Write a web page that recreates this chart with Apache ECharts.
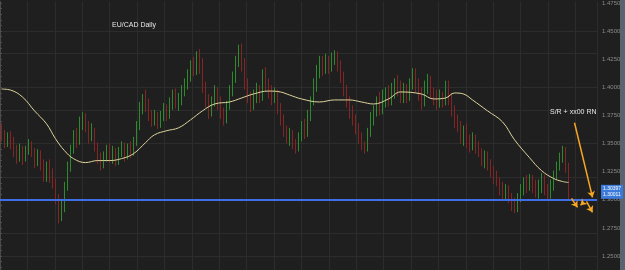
<!DOCTYPE html>
<html><head><meta charset="utf-8">
<script src="https://cdn.jsdelivr.net/npm/echarts@6/dist/echarts.min.js"></script>
<style>html,body{margin:0;padding:0;background:#1f1f1f;}#c{width:625px;height:270px;}</style>
</head><body><div id="c"></div>
<script>
const categories = Array.from({length: 199}, (_, i) => String(i + 1));
const opens = [1.362,1.356,1.350,1.357,1.352,1.346,1.340,1.345,1.338,1.344,
1.350,1.343,1.336,1.342,1.333,1.320,1.330,1.324,1.316,1.302,
1.288,1.293,1.312,1.330,1.345,1.358,1.352,1.368,1.375,1.366,
1.358,1.362,1.348,1.338,1.332,1.340,1.345,1.338,1.343,1.336,
1.342,1.348,1.340,1.346,1.342,1.352,1.366,1.382,1.390,1.384,
1.376,1.370,1.375,1.368,1.374,1.380,1.376,1.385,1.392,1.386,
1.390,1.397,1.404,1.412,1.420,1.415,1.425,1.418,1.400,1.390,
1.380,1.388,1.395,1.386,1.378,1.372,1.384,1.398,1.408,1.422,
1.432,1.420,1.404,1.392,1.384,1.392,1.398,1.392,1.410,1.402,
1.396,1.390,1.394,1.382,1.372,1.362,1.356,1.360,1.350,1.346,
1.356,1.366,1.360,1.374,1.388,1.402,1.414,1.422,1.416,1.424,
1.418,1.426,1.430,1.420,1.410,1.398,1.388,1.378,1.372,1.364,
1.356,1.348,1.346,1.360,1.372,1.380,1.386,1.380,1.388,1.394,
1.388,1.396,1.404,1.398,1.392,1.398,1.392,1.402,1.412,1.402,
1.394,1.386,1.400,1.406,1.396,1.390,1.386,1.392,1.388,1.398,
1.390,1.380,1.370,1.364,1.356,1.362,1.354,1.350,1.356,1.348,
1.342,1.336,1.340,1.332,1.326,1.320,1.316,1.310,1.306,1.310,
1.302,1.296,1.292,1.302,1.310,1.316,1.312,1.318,1.312,1.306,
1.312,1.318,1.310,1.304,1.312,1.322,1.330,1.338,1.344,1.330];
const closes = [1.356,1.350,1.357,1.352,1.346,1.340,1.345,1.338,1.344,1.350,
1.343,1.336,1.342,1.333,1.320,1.330,1.324,1.316,1.302,1.288,
1.293,1.312,1.330,1.345,1.358,1.352,1.368,1.375,1.366,1.358,
1.362,1.348,1.338,1.332,1.340,1.345,1.338,1.343,1.336,1.342,
1.348,1.340,1.346,1.342,1.352,1.366,1.382,1.390,1.384,1.376,
1.370,1.375,1.368,1.374,1.380,1.376,1.385,1.392,1.386,1.390,
1.397,1.404,1.412,1.420,1.415,1.425,1.418,1.400,1.390,1.380,
1.388,1.395,1.386,1.378,1.372,1.384,1.398,1.408,1.422,1.432,
1.420,1.404,1.392,1.384,1.392,1.398,1.392,1.410,1.402,1.396,
1.390,1.394,1.382,1.372,1.362,1.356,1.360,1.350,1.346,1.356,
1.366,1.360,1.374,1.388,1.402,1.414,1.422,1.416,1.424,1.418,
1.426,1.430,1.420,1.410,1.398,1.388,1.378,1.372,1.364,1.356,
1.348,1.346,1.360,1.372,1.380,1.386,1.380,1.388,1.394,1.388,
1.396,1.404,1.398,1.392,1.398,1.392,1.402,1.412,1.402,1.394,
1.386,1.400,1.406,1.396,1.390,1.386,1.392,1.388,1.398,1.390,
1.380,1.370,1.364,1.356,1.362,1.354,1.350,1.356,1.348,1.342,
1.336,1.340,1.332,1.326,1.320,1.316,1.310,1.306,1.310,1.302,
1.296,1.292,1.302,1.310,1.316,1.312,1.318,1.312,1.306,1.312,
1.318,1.310,1.304,1.312,1.322,1.330,1.338,1.344,1.330,1.304];
const lows = [1.352,1.346,1.347,1.345,1.338,1.332,1.334,1.331,1.334,1.340,
1.338,1.328,1.330,1.326,1.316,1.316,1.315,1.310,1.296,1.279,
1.281,1.289,1.308,1.325,1.341,1.346,1.349,1.362,1.360,1.350,
1.352,1.343,1.332,1.326,1.328,1.334,1.333,1.332,1.330,1.331,
1.338,1.334,1.336,1.337,1.339,1.348,1.362,1.376,1.378,1.370,
1.365,1.366,1.363,1.364,1.370,1.370,1.372,1.380,1.381,1.379,
1.384,1.392,1.398,1.405,1.410,1.411,1.412,1.395,1.382,1.372,
1.374,1.383,1.380,1.372,1.366,1.368,1.380,1.392,1.404,1.418,
1.414,1.398,1.386,1.378,1.380,1.386,1.386,1.388,1.396,1.390,
1.384,1.386,1.376,1.366,1.356,1.350,1.348,1.345,1.341,1.343,
1.352,1.354,1.356,1.370,1.384,1.396,1.408,1.410,1.412,1.412,
1.414,1.420,1.414,1.404,1.392,1.382,1.372,1.366,1.358,1.350,
1.344,1.341,1.343,1.356,1.366,1.374,1.375,1.376,1.382,1.383,
1.384,1.390,1.392,1.386,1.386,1.386,1.388,1.398,1.396,1.388,
1.380,1.383,1.394,1.390,1.384,1.380,1.382,1.382,1.384,1.384,
1.374,1.364,1.360,1.350,1.348,1.346,1.342,1.344,1.341,1.338,
1.330,1.328,1.326,1.320,1.314,1.312,1.304,1.300,1.300,1.297,
1.290,1.288,1.289,1.298,1.304,1.306,1.308,1.306,1.302,1.301,
1.306,1.304,1.300,1.301,1.308,1.318,1.326,1.333,1.324,1.300];
const highs = [1.368,1.362,1.360,1.361,1.356,1.349,1.350,1.348,1.348,1.354,
1.352,1.346,1.345,1.344,1.336,1.334,1.336,1.328,1.319,1.305,
1.300,1.316,1.334,1.349,1.362,1.364,1.374,1.378,1.377,1.370,
1.368,1.364,1.351,1.342,1.343,1.349,1.350,1.348,1.346,1.347,
1.352,1.351,1.350,1.352,1.356,1.370,1.387,1.394,1.398,1.390,
1.380,1.380,1.378,1.379,1.386,1.385,1.391,1.398,1.399,1.395,
1.402,1.408,1.416,1.424,1.427,1.432,1.434,1.426,1.405,1.394,
1.392,1.402,1.400,1.392,1.382,1.388,1.402,1.414,1.428,1.438,
1.439,1.426,1.408,1.396,1.398,1.404,1.402,1.416,1.418,1.408,
1.402,1.400,1.398,1.386,1.376,1.366,1.364,1.362,1.354,1.360,
1.370,1.372,1.380,1.392,1.408,1.420,1.428,1.428,1.430,1.428,
1.431,1.433,1.432,1.424,1.414,1.402,1.392,1.384,1.376,1.368,
1.360,1.352,1.364,1.378,1.384,1.392,1.396,1.398,1.400,1.402,
1.404,1.408,1.411,1.406,1.404,1.403,1.408,1.417,1.417,1.408,
1.400,1.406,1.412,1.410,1.400,1.398,1.398,1.396,1.406,1.406,
1.395,1.384,1.376,1.370,1.366,1.368,1.358,1.360,1.358,1.352,
1.346,1.344,1.343,1.336,1.330,1.326,1.320,1.316,1.314,1.313,
1.306,1.302,1.306,1.314,1.320,1.322,1.323,1.322,1.318,1.318,
1.324,1.322,1.314,1.318,1.326,1.334,1.342,1.348,1.347,1.333];
const maIdx = [0,3,7,11,15,18,21,24,28,32,36,40,44,48,51,55,59,63,67,71,76,80,84,89,93,96,100,106,111,116,120,124,129,133,140,144,148,151,154,157,162,167,171,176,180,184,187,189];
const maVal = [1.3985,1.3976,1.3914,1.3791,1.3676,1.3543,1.3437,1.3366,1.3331,1.3349,1.3349,1.3366,1.3410,1.3508,1.3578,1.3614,1.3640,1.3711,1.3791,1.3852,1.3870,1.3905,1.3941,1.3967,1.3959,1.3932,1.3897,1.3870,1.3888,1.3888,1.3870,1.3852,1.3897,1.3959,1.3941,1.3897,1.3905,1.3950,1.3941,1.3888,1.3791,1.3693,1.3534,1.3375,1.3260,1.3190,1.3163,1.3154];
const tickLabels = [1.25, 1.275, 1.3, 1.325, 1.35, 1.375, 1.4, 1.425, 1.45, 1.475];
const minorTickValues = [1.24,1.245,1.25,1.255,1.26,1.265,1.27,1.275,1.28,1.285,1.29,1.295,1.3,1.305,1.31,1.315,1.32,1.325,1.33,1.335,1.34,1.345,1.35,1.355,1.36,1.365,1.37,1.375,1.38,1.385,1.39,1.395,1.4,1.405,1.41,1.415,1.42,1.425,1.43,1.435,1.44,1.445,1.45,1.455,1.46,1.465,1.47,1.475];
const srLevel = 1.3004;
const priceLabels = ['1.30397', '1.30011'];
const arrowFrom = [[191, 1.3685], [190, 1.3013], [194, 1.2977], [195, 1.2986]];
const arrowTo   = [[197, 1.3022], [192, 1.2933], [193, 1.2951], [197, 1.2889]];

const candles = opens.map((o, i) => [o, closes[i], lows[i], highs[i]]);
const maData = maIdx.map((x, i) => [x, maVal[i]]);

const chart = echarts.init(document.getElementById('c'), null, {renderer: 'canvas'});
chart.setOption({
  animation: false,
  backgroundColor: '#1f1f1f',
  title: [
    {text: 'EU/CAD Daily', left: 112, top: 22, padding: 0,
     textStyle: {color: '#e6e6e6', fontSize: 7, fontWeight: 'normal', fontFamily: 'Liberation Sans'}},
    {text: 'S/R + xx00 RN', left: 550, top: 109, padding: 0,
     textStyle: {color: '#e6e6e6', fontSize: 7, fontWeight: 'normal', fontFamily: 'Liberation Sans'}}
  ],
  graphic: [{type: 'rect', right: 0, top: 0, shape: {width: 5, height: 270}, style: {fill: '#5b6270'}}],
  grid: {left: 0, right: 28, top: 0, bottom: 0},
  xAxis: [
    {type: 'category', data: categories, boundaryGap: true,
     axisLine: {show: false}, axisTick: {show: false}, axisLabel: {show: false}, splitLine: {show: false}},
    {type: 'value', min: 0, max: 21.79, interval: 1, position: 'bottom',
     axisLine: {show: false}, axisTick: {show: false}, axisLabel: {show: false},
     splitLine: {show: true, lineStyle: {color: '#2c2c2c', width: 1}}}
  ],
  yAxis: {
    type: 'value', position: 'right', min: 1.2376, max: 1.4763,
    axisLine: {show: true, lineStyle: {color: '#4a4a4a'}},
    axisTick: {show: true, length: 2, customValues: minorTickValues, lineStyle: {color: '#505050'}},
    axisLabel: {color: '#8a8a8a', fontSize: 6, margin: 5, fontFamily: 'Liberation Sans',
      customValues: tickLabels, formatter: v => v.toFixed(4)},
    splitLine: {show: false}
  },
  series: [
    {type: 'line', data: [], z: 0, silent: true,
     markLine: {silent: true, symbol: 'none', animation: false, z: 0,
       lineStyle: {color: '#2c2c2c', width: 1, type: 'solid'}, label: {show: false},
       data: tickLabels.map(v => ({yAxis: v}))}},
    {type: 'candlestick', data: candles, barWidth: 1,
     itemStyle: {color: '#2f8a2f', color0: '#842525', borderColor: '#2f8a2f', borderColor0: '#842525', borderWidth: 1},
     markLine: {silent: true, symbol: 'none', animation: false,
       data: [{yAxis: srLevel,
         lineStyle: {color: '#3f6fe6', width: 2, type: 'solid'},
         label: {show: true, position: 'end', distance: 4, offset: [0, -8],
           formatter: priceLabels.join('\n'), color: '#fff', fontSize: 5, lineHeight: 6,
           backgroundColor: '#3b7ad8', padding: [1, 2], fontFamily: 'Liberation Sans'}}]}
    },
    {type: 'line', data: maData, smooth: 0.4, showSymbol: false, symbol: 'none',
     lineStyle: {color: '#ddd49c', width: 1}, z: 3,
     markLine: {silent: true, symbol: ['none', 'arrow'], symbolSize: 6, animation: false,
       lineStyle: {color: '#f5a623', width: 1.5, type: 'solid'},
       label: {show: false},
       data: arrowFrom.map((f, i) => [{coord: f}, {coord: arrowTo[i]}])}
    }
  ]
});
</script></body></html>
